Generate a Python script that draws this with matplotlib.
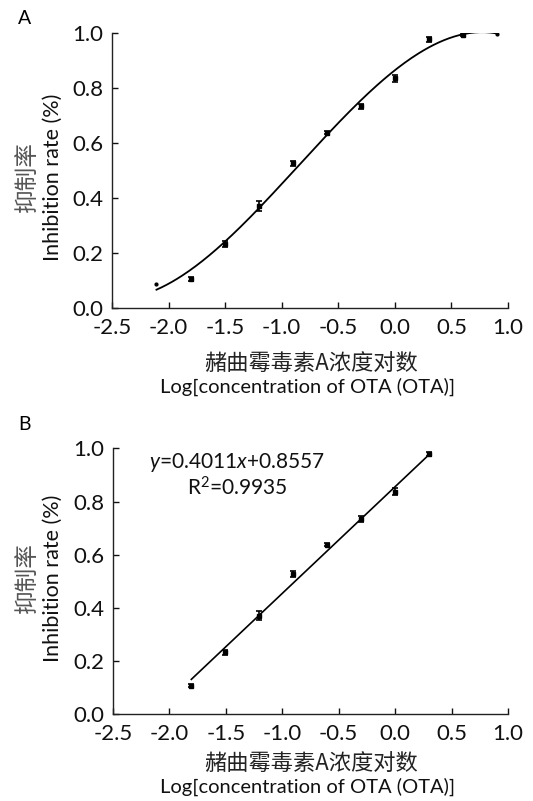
import numpy as np
import matplotlib
matplotlib.use("Agg")
import matplotlib.pyplot as plt

plt.rcParams['font.family'] = ['Lato', 'Noto Sans CJK SC', 'DejaVu Sans']
plt.rcParams['mathtext.fontset'] = 'custom'
plt.rcParams['mathtext.rm'] = 'Lato'
plt.rcParams['mathtext.it'] = 'Lato:italic'

# log concentration of OTA
log_conc = [-2.107, -1.806, -1.505, -1.204, -0.903, -0.602, -0.301, 0.0, 0.301, 0.602, 0.903]
inhib = [0.087, 0.107, 0.233, 0.371, 0.527, 0.638, 0.734, 0.836, 0.978, 0.994, 0.998]
err = [0.0, 0.006, 0.010, 0.018, 0.010, 0.005, 0.010, 0.013, 0.008, 0.005, 0.0]

# linear range used in panel B
lin_x = log_conc[1:9]
lin_y = inhib[1:9]
lin_err = err[1:9]
slope, intercept, r2 = 0.4011, 0.8557, 0.9935

xticks = [-2.5, -2.0, -1.5, -1.0, -0.5, 0.0, 0.5, 1.0]
yticks = [0.0, 0.2, 0.4, 0.6, 0.8, 1.0]

W, H = 533, 801
fig = plt.figure(figsize=(W / 100, H / 100), dpi=100)


def px(x0, y0, x1, y1):
    return [x0 / W, 1 - y1 / H, (x1 - x0) / W, (y1 - y0) / H]


def style(ax):
    ax.set_xlim(-2.5, 1.0)
    ax.set_ylim(0, 1.0)
    ax.set_xticks(xticks)
    ax.set_yticks(yticks)
    ax.set_xticklabels(['%.1f' % t for t in xticks])
    ax.set_yticklabels(['%.1f' % t for t in yticks])
    for s in ['top', 'right']:
        ax.spines[s].set_visible(False)
    for s in ['left', 'bottom']:
        ax.spines[s].set_linewidth(1.0)
        ax.spines[s].set_color('#222222')
    ax.tick_params(direction='in', length=4, width=1, labelsize=16, pad=6, colors='#111111')
    ax.tick_params(axis='x', pad=7)


def labels(yc):
    fig.text(27 / W, 1 - yc / H, '抑制率', rotation=90, ha='center', va='center',
             fontsize=17, color='#555555', family=['Noto Sans CJK SC'])
    fig.text(53 / W, 1 - yc / H, 'Inhibition rate (%)', rotation=90, ha='center', va='center',
             fontsize=15.5, color='#111111')


def xlabels(y1, y2):
    fig.text(311 / W, 1 - y1 / H, '赭曲霉毒素A浓度对数', ha='center', va='center',
             fontsize=16, color='#222222', family=['Noto Sans CJK SC'])
    fig.text(308 / W, 1 - y2 / H, 'Log[concentration of OTA (OTA)]', ha='center', va='center',
             fontsize=14.5, color='#111111')


# panel A
axA = fig.add_axes(px(112, 33.3, 508, 308.3))
style(axA)
coef = np.polyfit(log_conc, inhib, 3)
xs = np.linspace(log_conc[0], log_conc[-1], 200)
axA.plot(xs, np.polyval(coef, xs), color='black', lw=1.3)
axA.errorbar(log_conc[1:-1], inhib[1:-1], yerr=err[1:-1], fmt='s', ms=3.2, color='black',
             ecolor='black', elinewidth=1.2, capsize=2.5, capthick=1.2)
axA.plot([log_conc[0], log_conc[-1]], [inhib[0], inhib[-1]], 'o', ms=2, color='black')
fig.text(25 / W, 1 - 19 / H, 'A', ha='center', va='center', fontsize=14)
labels(177)
xlabels(363, 387)

# panel B
axB = fig.add_axes(px(113, 448.3, 508, 714.3))
style(axB)
lx = np.array([lin_x[0], lin_x[-1]])
axB.plot(lx, slope * lx + intercept, color='black', lw=1.2)
axB.errorbar(lin_x, lin_y, yerr=lin_err, fmt='s', ms=2.5, color='black',
             ecolor='black', elinewidth=1.2, capsize=2.5, capthick=1.2)
axB.text(0.314, 0.945, '$y$=%.4f$x$+%.4f' % (slope, intercept), transform=axB.transAxes,
         ha='center', va='center', fontsize=15, color='#111111')
axB.text(0.314, 0.851, 'R$^2$=%.4f' % r2, transform=axB.transAxes,
         ha='center', va='center', fontsize=15, color='#111111')
fig.text(25 / W, 1 - 425 / H, 'B', ha='center', va='center', fontsize=14)
labels(578)
xlabels(763, 787)

fig.savefig('out.png', dpi=100)
